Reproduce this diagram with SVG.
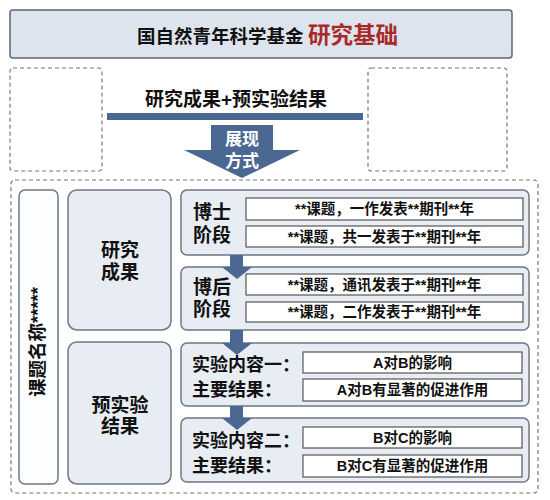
<svg xmlns="http://www.w3.org/2000/svg" width="550" height="500" viewBox="0 0 550 500">
<style>
text{font-family:"Liberation Sans","Noto Sans CJK SC",sans-serif;font-weight:bold;fill:#111;}
.dash{fill:none;stroke:#777;stroke-width:1.2;stroke-dasharray:4 3;}
.panel{fill:#e8ecf3;stroke:#6b7886;stroke-width:1.5;}
.inner{fill:#fff;stroke:#555;stroke-width:1.2;}
.lbl{font-size:19px;}
.cell{font-size:14.5px;text-anchor:middle;}
.mid{text-anchor:middle;}
.blue{fill:#4a6891;}
</style>
<rect width="550" height="500" fill="#fff"/>
<g id="title">
<rect x="10" y="10" width="502" height="48" rx="3" fill="#dee4ee" stroke="#5b6776" stroke-width="1.5"/>
<text x="137" y="43" font-size="18.5">国自然青年科学基金<tspan x="308" fill="#a82a2a" font-size="22.5">研究基础</tspan></text>
</g>
<g id="deco">
<rect class="dash" x="10" y="68" width="92" height="103" rx="3"/>
<rect class="dash" x="368" y="68" width="139" height="103" rx="3"/>
</g>
<g id="header">
<text x="236" y="106" class="mid" font-size="19">研究成果+预实验结果</text>
<rect class="blue" x="107" y="113" width="256" height="7"/>
</g>
<g id="show-arrow">
<path class="blue" d="M211,125 H273 V150 H300 L242,178 L184,150 H211 Z"/>
<text x="242" y="145" class="mid" font-size="17" style="fill:#fff">展现</text>
<text x="242" y="167" class="mid" font-size="17" style="fill:#fff">方式</text>
</g>
<rect class="dash" x="11" y="180" width="527" height="313" rx="4"/>
<g id="topic">
<rect x="19" y="190" width="39" height="294" rx="6" fill="#fcfdff" stroke="#6b7886" stroke-width="1.5"/>
<text transform="translate(44,342) rotate(-90)" class="mid" font-size="18.5">课题名称*****</text>
</g>
<g id="research">
<rect class="panel" x="68" y="190" width="103" height="140" rx="9"/>
<text x="120" y="257" class="mid lbl">研究</text>
<text x="120" y="279" class="mid lbl">成果</text>
</g>
<g id="prelim">
<rect class="panel" x="68" y="342" width="103" height="142" rx="9"/>
<text x="120" y="412" class="mid lbl">预实验</text>
<text x="120" y="433" class="mid lbl">结果</text>
</g>
<g id="phd">
<rect class="panel" x="181" y="190" width="348" height="65" rx="6"/>
<text x="193" y="219" class="lbl">博士</text>
<text x="193" y="242" class="lbl">阶段</text>
<rect class="inner" x="246" y="198" width="277" height="22"/>
<text x="384.5" y="214" class="cell">**课题，一作发表**期刊**年</text>
<rect class="inner" x="246" y="226" width="277" height="21"/>
<text x="384.5" y="241.5" class="cell">**课题，共一发表于**期刊**年</text>
</g>
<g id="postdoc">
<rect class="panel" x="181" y="267" width="348" height="63" rx="6"/>
<text x="193" y="294" class="lbl">博后</text>
<text x="193" y="316" class="lbl">阶段</text>
<rect class="inner" x="246" y="274" width="277" height="21"/>
<text x="384.5" y="289.5" class="cell">**课题，通讯发表于**期刊**年</text>
<rect class="inner" x="246" y="302" width="277" height="20"/>
<text x="384.5" y="317" class="cell">**课题，二作发表于**期刊**年</text>
</g>
<g id="exp1">
<rect class="panel" x="181" y="343" width="348" height="63" rx="6"/>
<text x="192" y="371" font-size="18">实验内容一：</text>
<text x="192" y="396" font-size="18">主要结果：</text>
<rect class="inner" x="303" y="352" width="219" height="21"/>
<text x="412.5" y="367.5" class="cell">A对B的影响</text>
<rect class="inner" x="303" y="379" width="219" height="22"/>
<text x="412.5" y="395" class="cell">A对B有显著的促进作用</text>
</g>
<g id="exp2">
<rect class="panel" x="181" y="418" width="348" height="64" rx="6"/>
<text x="192" y="447" font-size="18">实验内容二：</text>
<text x="192" y="472" font-size="18">主要结果：</text>
<rect class="inner" x="303" y="427" width="219" height="21"/>
<text x="412.5" y="442.5" class="cell">B对C的影响</text>
<rect class="inner" x="303" y="455" width="219" height="22"/>
<text x="412.5" y="471" class="cell">B对C有显著的促进作用</text>
</g>
<g id="connectors">
<path class="blue" d="M230,255 H243 V267 H252 L237,279 L222,267 H230 Z"/>
<path class="blue" d="M230,330 H243 V343 H252 L237,355 L222,343 H230 Z"/>
<path class="blue" d="M230,406 H243 V418 H252 L237,430 L222,418 H230 Z"/>
</g>
</svg>
